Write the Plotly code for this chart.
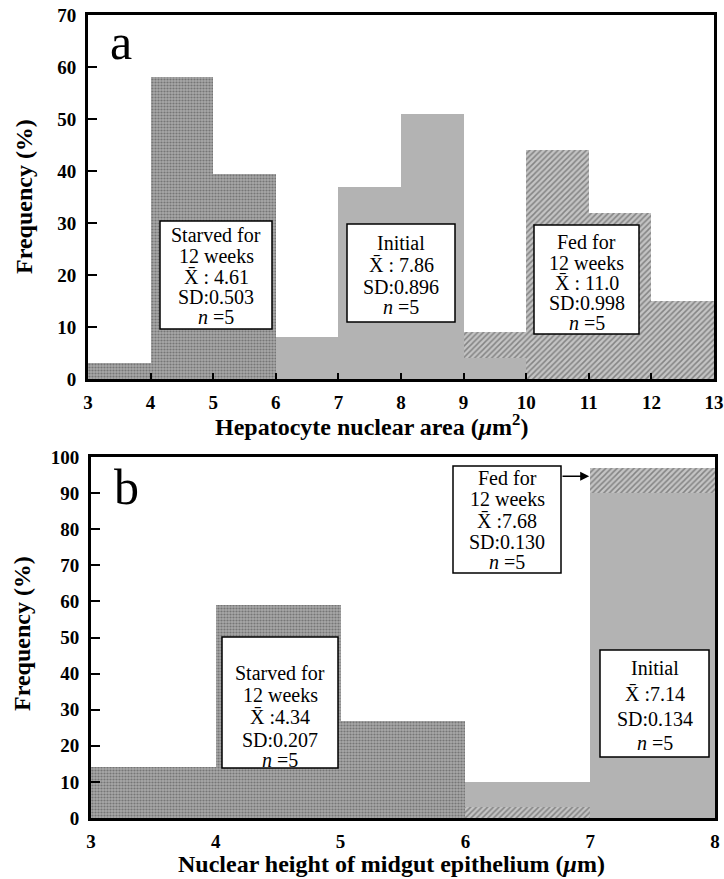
import plotly.graph_objects as go

# ---------------- data ----------------
bins_a = [3, 4, 5, 6, 7, 8, 9, 10, 11, 12]          # left edges (µm²)
starved_a = [3, 58, 39.5, 0, 0, 0, 0, 0, 0, 0]
initial_a = [0, 0, 0, 8, 37, 51, 4, 0, 0, 0]
fed_a = [0, 0, 0, 0, 0, 0, 9, 44, 32, 15]

bins_b = [3, 4, 5, 6, 7]                              # left edges (µm)
starved_b = [14, 59, 27, 0, 0]
initial_b = [0, 0, 0, 10, 90]
fed_b = [0, 0, 0, 3, 97]

ticks_a_x = [3, 4, 5, 6, 7, 8, 9, 10, 11, 12, 13]
ticks_a_y = [0, 10, 20, 30, 40, 50, 60, 70]
ticks_b_x = [3, 4, 5, 6, 7, 8]
ticks_b_y = [0, 10, 20, 30, 40, 50, 60, 70, 80, 90, 100]

XB = "X\u0304"
stats_a = {
    "starved": ["Starved for", "12 weeks", XB + " : 4.61", "SD:0.503", "<i>n</i> =5"],
    "initial": ["Initial", XB + " : 7.86", "SD:0.896", "<i>n</i> =5"],
    "fed": ["Fed for", "12 weeks", XB + " : 11.0", "SD:0.998", "<i>n</i> =5"],
}
stats_b = {
    "fed": ["Fed for", "12 weeks", XB + " :7.68", "SD:0.130", "<i>n</i> =5"],
    "starved": ["Starved for", "12 weeks", XB + " :4.34", "SD:0.207", "<i>n</i> =5"],
    "initial": ["Initial", XB + " :7.14", "SD:0.134", "<i>n</i> =5"],
}

# ---------------- styles ----------------
STYLE = {
    "starved": dict(color="#a8a8a8", shape=".", fg="#000000", size=3, sol=0.42),
    "initial": dict(color="#b3b3b3", shape="", fg="#b3b3b3", size=4, sol=0.3),
    "fed": dict(color="#c4c4c4", shape="/", fg="#000000", size=4, sol=0.38),
}
SERIF = "Liberation Serif, Times New Roman, serif"
W, H = 724, 879

fig = go.Figure()


def add_layers(bins, series, xa, ya):
    # per bin, the taller bar is drawn behind the shorter one
    n = len(bins)
    ranked = []
    for i in range(n):
        vals = [(v[i], k) for k, v in series.items() if v[i] > 0]
        vals.sort(reverse=True)
        ranked.append(vals)
    nlayers = max(len(r) for r in ranked)
    for L in range(nlayers):
        xs, ys, cols, shapes, fgs, sizes, sols = [], [], [], [], [], [], []
        for i in range(n):
            if L < len(ranked[i]):
                v, k = ranked[i][L]
                st = STYLE[k]
                xs.append(bins[i] + 0.5)
                ys.append(v)
                cols.append(st["color"])
                shapes.append(st["shape"])
                fgs.append(st["fg"])
                sizes.append(st["size"])
                sols.append(st["sol"])
        fig.add_trace(go.Bar(
            x=xs, y=ys, width=1, xaxis=xa, yaxis=ya,
            marker=dict(color=cols, line=dict(width=0),
                        pattern=dict(shape=shapes, fgcolor=fgs, bgcolor=cols,
                                     size=sizes, solidity=sols)),
            showlegend=False, hoverinfo="skip"))


add_layers(bins_a, {"starved": starved_a, "initial": initial_a, "fed": fed_a}, "x", "y")
add_layers(bins_b, {"starved": starved_b, "initial": initial_b, "fed": fed_b}, "x2", "y2")


def px_x(p):
    return p / W


def px_y(p):
    return 1 - p / H


def bold(vals):
    return ["<b>%s</b>" % v for v in vals]


axis_common = dict(
    showline=True, linewidth=3, linecolor="black", mirror=True,
    ticks="inside", tickcolor="black", tickwidth=2,
    showgrid=False, zeroline=False, automargin=False,
    tickfont=dict(family=SERIF, size=19, color="black"),
)

fig.update_layout(
    width=W, height=H,
    margin=dict(l=0, r=0, t=0, b=0, autoexpand=False),
    plot_bgcolor="white", paper_bgcolor="white",
    barmode="overlay", bargap=0,
    xaxis=dict(axis_common, domain=[px_x(88), px_x(714)], range=[3, 13],
               tickvals=ticks_a_x, ticktext=bold(ticks_a_x), ticklen=6, anchor="y",
               ticklabelstandoff=4),
    yaxis=dict(axis_common, domain=[px_y(379), px_y(15)], range=[0, 70],
               tickvals=ticks_a_y, ticktext=bold(ticks_a_y), ticklen=9, anchor="x",
               ticklabelstandoff=5),
    xaxis2=dict(axis_common, domain=[px_x(91), px_x(715)], range=[3, 8],
                tickvals=ticks_b_x, ticktext=bold(ticks_b_x), ticklen=0, anchor="y2",
                ticklabelstandoff=4),
    yaxis2=dict(axis_common, domain=[px_y(818), px_y(457)], range=[0, 100],
                tickvals=ticks_b_y, ticktext=bold(ticks_b_y), ticklen=9, anchor="x2",
                ticklabelstandoff=5),
)

title_font = dict(family=SERIF, size=24, color="black")


def label(text, cx, cy, font, angle=0):
    fig.add_annotation(x=px_x(cx), y=px_y(cy), xref="paper", yref="paper",
                       text=text, showarrow=False, textangle=angle, font=font,
                       xanchor="center", yanchor="middle")


# axis titles
label("<b>Hepatocyte nuclear area (<i>μ</i>m<sup>2</sup>)</b>", 371, 425, title_font)
label("<b>Nuclear height of midgut epithelium (<i>μ</i>m)</b>", 391, 864, title_font)
label("<b>Frequency (%)</b>", 24, 197, title_font, -90)
label("<b>Frequency (%)</b>", 22, 634, title_font, -90)

box_font = dict(family=SERIF, size=20, color="black")


def box(lines, x0, x1, y0, y1, ys):
    fig.add_shape(type="rect", xref="paper", yref="paper",
                  x0=px_x(x0), x1=px_x(x1), y0=px_y(y1), y1=px_y(y0),
                  fillcolor="white", line=dict(color="black", width=1.5), layer="above")
    cx = (x0 + x1) / 2
    for t, y in zip(lines, ys):
        label(t, cx, y, box_font)


# panel a boxes
box(stats_a["starved"], 160, 272, 221, 329, [235, 256, 277, 297, 317])
box(stats_a["initial"], 347, 455, 224, 322, [243, 265, 287, 307])
box(stats_a["fed"], 534, 639, 225, 334, [242, 263, 283, 303, 323])

# panel b boxes
box(stats_b["fed"], 453, 561, 466, 573, [478, 499, 521, 542, 562])
box(stats_b["starved"], 222, 338, 637, 768, [673, 695, 717, 740, 760])
box(stats_b["initial"], 600, 709, 650, 757, [668, 694, 719, 743])

# arrow from fed box to the fed bar
fig.add_annotation(x=7.0, y=94.7, xref="x2", yref="y2",
                   ax=6.766, ay=94.7, axref="x2", ayref="y2",
                   text="", showarrow=True, arrowhead=2, arrowsize=1.2,
                   arrowwidth=1.5, arrowcolor="black", standoff=1)

# panel letters
label("a", 121, 42, dict(family=SERIF, size=50, color="black"))
label("b", 126, 487, dict(family=SERIF, size=50, color="black"))

fig.write_html("out.html",
               config={"displayModeBar": False},
               post_script="document.body.style.margin='0px';"
                           "document.body.style.padding='0px';"
                           "document.body.style.overflow='hidden';")
